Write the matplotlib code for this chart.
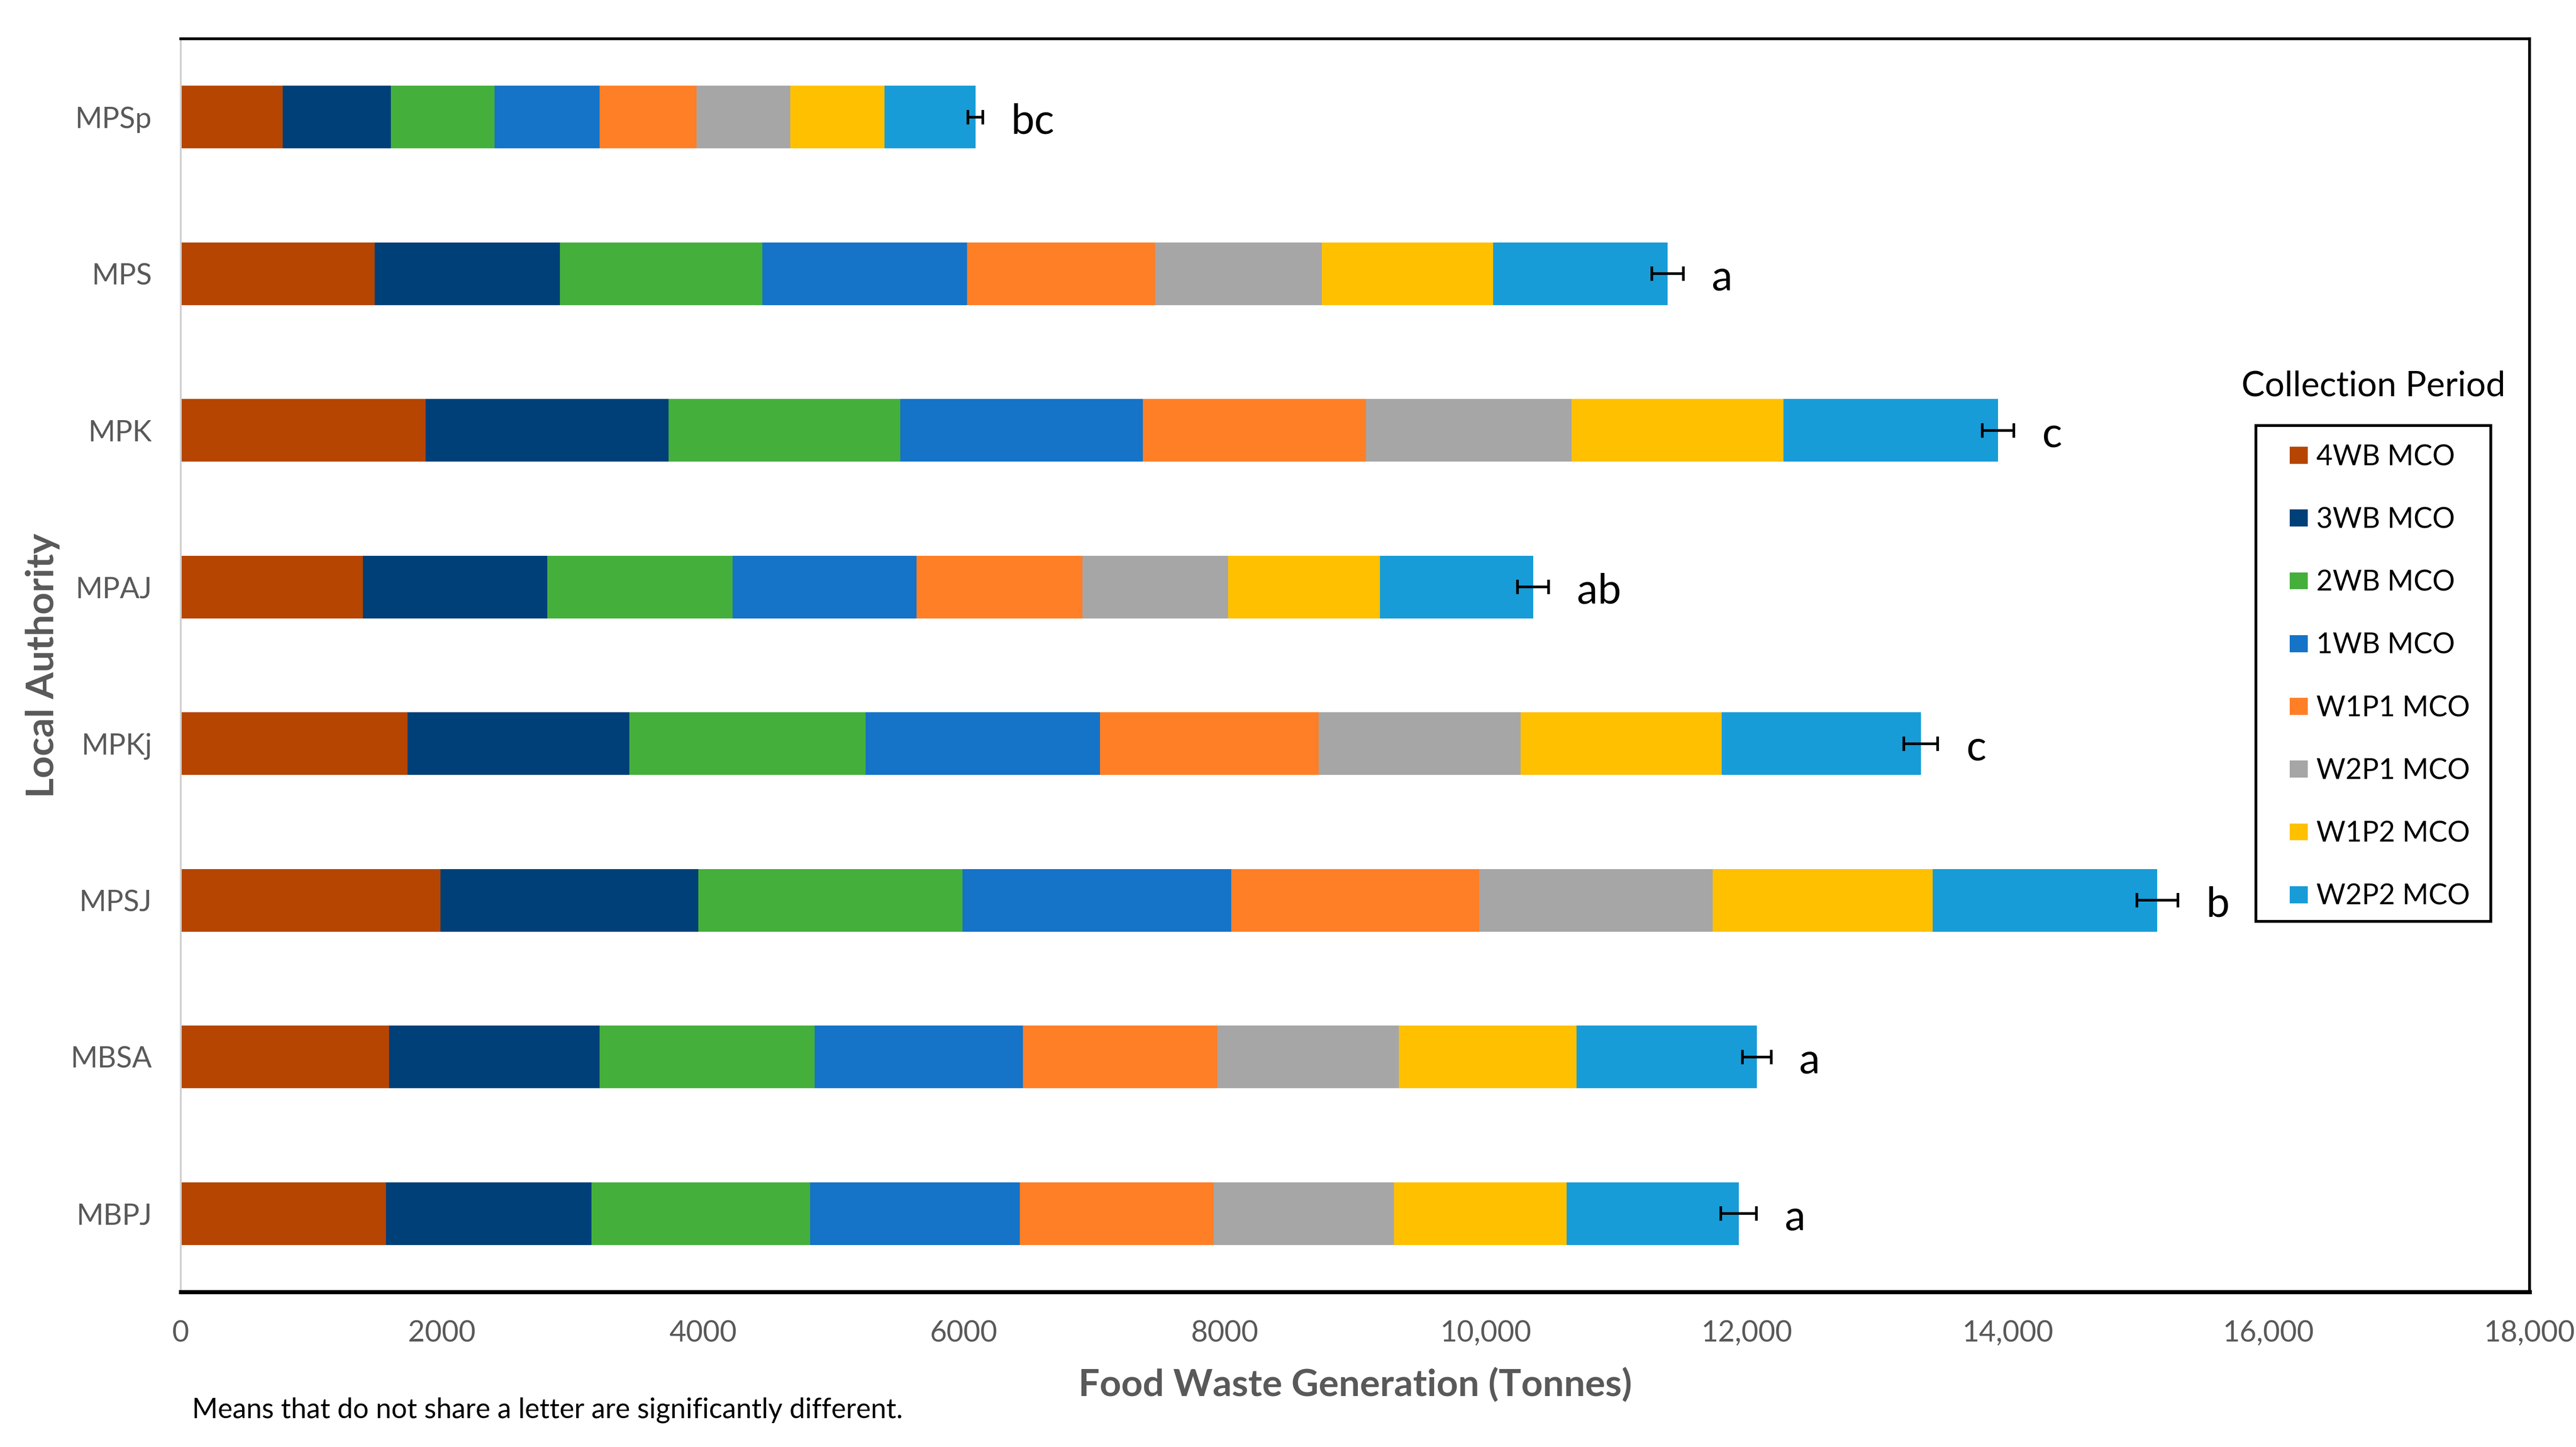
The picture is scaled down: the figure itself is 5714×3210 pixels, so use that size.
import numpy as np
import matplotlib
matplotlib.use('Agg')
import matplotlib.pyplot as plt
from matplotlib.patches import Rectangle

plt.rcParams['font.family'] = ['Lato', 'DejaVu Sans']

# local authorities, top to bottom as in the chart
authorities = ['MPSp', 'MPS', 'MPK', 'MPAJ', 'MPKj', 'MPSJ', 'MBSA', 'MBPJ']
periods = ['4WB MCO', '3WB MCO', '2WB MCO', '1WB MCO',
           'W1P1 MCO', 'W2P1 MCO', 'W1P2 MCO', 'W2P2 MCO']

# food waste per collection period (tonnes)
wb4 = [782, 1485, 1877, 1397, 1737, 1989, 1596, 1572]
wb3 = [829, 1420, 1861, 1411, 1701, 1977, 1614, 1575]
wb2 = [794, 1551, 1774, 1420, 1808, 2026, 1648, 1677]
wb1 = [805, 1570, 1862, 1410, 1798, 2059, 1595, 1604]
w1p1 = [742, 1440, 1709, 1270, 1675, 1900, 1491, 1487]
w2p1 = [717, 1278, 1575, 1118, 1547, 1788, 1391, 1381]
w1p2 = [722, 1313, 1624, 1164, 1541, 1687, 1362, 1324]
w2p2 = [698, 1338, 1643, 1173, 1527, 1721, 1381, 1318]

errors = [56, 121, 121, 120, 130, 157, 110, 137]
letters = ['bc', 'a', 'c', 'ab', 'c', 'b', 'a', 'a']

x_ticks = [0, 2000, 4000, 6000, 8000, 10000, 12000, 14000, 16000, 18000]
x_tick_labels = ['0', '2000', '4000', '6000', '8000', '10,000', '12,000',
                 '14,000', '16,000', '18,000']

series = [wb4, wb3, wb2, wb1, w1p1, w2p1, w1p2, w2p2]
colors = ['#B54500', '#004078', '#45AF3B', '#1573C8',
          '#FF7F27', '#A6A6A6', '#FFC000', '#189CD7']
grey_text = '#595959'

fig = plt.figure(figsize=(5714 / 300, 3210 / 300), dpi=300)
ax = fig.add_axes([0.0702, 0.1072, 0.9118, 0.8660])

y = np.arange(len(authorities))
left = np.zeros(len(authorities))
for name, vals, col in zip(periods, series, colors):
    ax.barh(y, vals, left=left, height=0.4, color=col, label=name, zorder=2)
    left = left + np.array(vals)
totals = left

ax.errorbar(totals, y, xerr=errors, fmt='none', ecolor='black',
            elinewidth=1.4, capsize=3.9, capthick=1.4, zorder=3)

for xi, yi, e, s in zip(totals, y, errors, letters):
    ax.annotate(s, (xi + e, yi), xytext=(15, -8.8), textcoords='offset points',
                ha='left', va='baseline', fontsize=22.3, color='black')

ax.set_xlim(0, 18000)
ax.set_ylim(len(authorities) - 0.5, -0.5)
ax.set_xticks(x_ticks)
ax.set_xticklabels(x_tick_labels)
ax.set_yticks(y)
ax.set_yticklabels(authorities)
ax.tick_params(axis='both', length=0, labelsize=15.5, labelcolor=grey_text)
ax.tick_params(axis='x', pad=15)
ax.tick_params(axis='y', pad=15.5)

# plot-area border like the original
ax.spines['top'].set_linewidth(1.5)
ax.spines['right'].set_linewidth(1.5)
ax.spines['bottom'].set_linewidth(2.2)
ax.spines['left'].set_color('#D0D0D0')
ax.spines['left'].set_linewidth(1.0)
for s in ['top', 'right', 'bottom']:
    ax.spines[s].set_color('black')

fig.text(0.0166, 0.540, 'Local Authority', rotation=90, ha='center', va='center',
         fontsize=20.5, fontweight='bold', color=grey_text)
fig.text(0.526, 0.0352, 'Food Waste Generation (Tonnes)', ha='center', va='baseline',
         fontsize=20, fontweight='bold', color=grey_text)
fig.text(0.0746, 0.0201, 'Means that do not share a letter are significantly different.',
         ha='left', va='baseline', fontsize=14.8, color='black')

# legend: title above a separate box
fig.text(0.9214, 0.7262, 'Collection Period', ha='center', va='baseline',
         fontsize=18.6, color='black')
fig.patches.append(Rectangle((0.8757, 0.3632), 0.0912, 0.3427, transform=fig.transFigure,
                             fill=False, edgecolor='black', linewidth=1.5))
handles, labels = ax.get_legend_handles_labels()
fig.legend(handles, labels, loc='upper left', bbox_to_anchor=(0.8889, 0.6931),
           frameon=False, borderpad=0, borderaxespad=0, fontsize=15.0,
           handlelength=0.64, handleheight=0.55, handletextpad=0.3,
           labelspacing=1.30)

fig.savefig('out.png', dpi=300)
plt.close(fig)
